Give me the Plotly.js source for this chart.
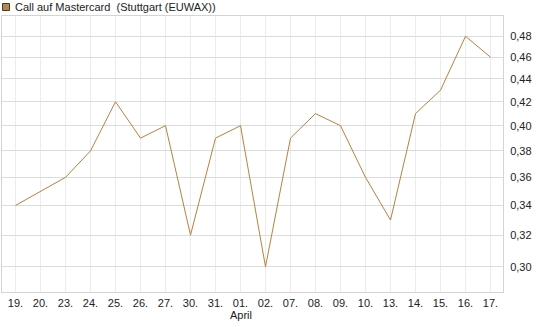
<!DOCTYPE html>
<html>
<head>
<meta charset="utf-8">
<script src="https://cdn.plot.ly/plotly-3.0.1.min.js"></script>
<style>html,body{margin:0;padding:0;background:#fff;}#chart{width:545px;height:327px;}</style>
</head>
<body>
<div id="chart"></div>
<script>
const dates = ["19.","20.","23.","24.","25.","26.","27.","30.","31.","01.","02.","07.","08.","09.","10.","13.","14.","15.","16.","17."];
const prices = [0.34,0.35,0.36,0.38,0.42,0.39,0.40,0.32,0.39,0.40,0.30,0.39,0.41,0.40,0.36,0.33,0.41,0.43,0.48,0.46];
const yTicks = [0.30,0.32,0.34,0.36,0.38,0.40,0.42,0.44,0.46,0.48];
const yTickText = yTicks.map(v => v.toFixed(2).replace('.', ','));
const monthLabel = "April";
const monthAt = "01.";
const seriesName = "Call auf Mastercard  (Stuttgart (EUWAX))";

const lineColor = "#b5823f";
const font = {family: "Liberation Sans, Arial, sans-serif", size: 11, color: "#222"};

const trace = {
  type: "scatter", mode: "lines",
  x: dates, y: prices,
  line: {color: lineColor, width: 1},
  hoverinfo: "skip", showlegend: false
};

const W = 545, H = 327, L = 2, R = 42, T = 16, B = 35;
const pw = W - L - R, ph = H - T - B;
const px = v => (v - L) / pw;
const py = v => (H - B - v) / ph;

const layout = {
  width: W, height: H,
  margin: {l: L, r: R, t: T, b: B, pad: 0},
  paper_bgcolor: "#fff", plot_bgcolor: "#fff",
  font: font,
  showlegend: false,
  xaxis: {
    type: "category",
    range: [-0.54, 19.5],
    showgrid: true, gridcolor: "#ececec", gridwidth: 1,
    zeroline: false,
    showline: true, linecolor: "#d4d4d4", linewidth: 1, mirror: true,
    ticks: "", tickfont: font, ticklabelstandoff: 1,
    fixedrange: true
  },
  yaxis: {
    type: "log",
    side: "right",
    range: [-0.5452, -0.3008],
    tickmode: "array", tickvals: yTicks, ticktext: yTickText,
    showgrid: true, gridcolor: "#dcdcdc", gridwidth: 1,
    zeroline: false,
    showline: true, linecolor: "#d4d4d4", linewidth: 1, mirror: true,
    ticks: "", tickfont: font, ticklabelstandoff: 4,
    fixedrange: true
  },
  shapes: [{
    type: "rect", xref: "paper", yref: "paper",
    x0: px(2.5), x1: px(9.5), y0: py(10.5), y1: py(3.5),
    fillcolor: "#b08850", line: {color: "#4a3a22", width: 1}
  }],
  annotations: [
    {xref: "paper", yref: "paper", x: px(13), y: py(7), xanchor: "left", yanchor: "middle",
     text: seriesName, showarrow: false, font: font},
    {xref: "x", yref: "paper", x: dates.indexOf(monthAt), y: py(315), xanchor: "center", yanchor: "middle",
     text: monthLabel, showarrow: false, font: font}
  ]
};

Plotly.newPlot("chart", [trace], layout, {staticPlot: true, displayModeBar: false});
</script>
</body>
</html>
